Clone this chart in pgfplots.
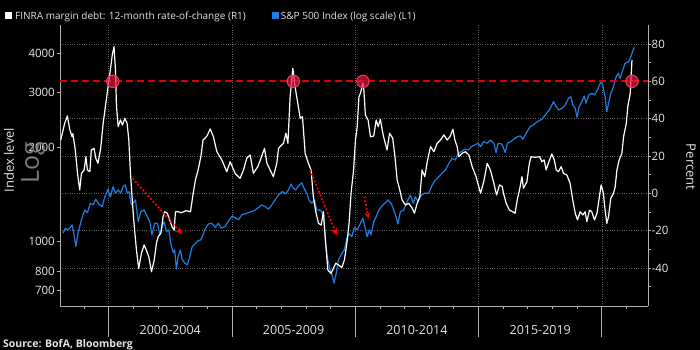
\documentclass[border=0pt]{standalone}
\usepackage{pgfplots}
\pgfplotsset{compat=1.18}
\usepackage{fontspec}
\setmainfont{Open Sans}
\usetikzlibrary{arrows.meta}
\definecolor{sbblue}{RGB}{30,125,225}
\definecolor{crim}{RGB}{225,25,60}
\definecolor{circb}{RGB}{240,60,95}
\definecolor{gridc}{RGB}{95,95,95}
\definecolor{axc}{RGB}{175,175,175}
\definecolor{txt}{RGB}{228,228,228}
\definecolor{loggray}{RGB}{125,125,125}

\pgfplotsset{
  base/.style={scale only axis, width=588pt, height=281pt,
    xmin=1998.03, xmax=2021.87, at={(0pt,0pt)}, anchor=south west,
    axis line style={axc, line width=0.8pt}, tick style={axc, line width=0.8pt},
    tick align=outside,
    /pgf/number format/assume math mode=true,
    ticklabel style={font=\fontsize{11.5}{13}\selectfont, text=txt}},
}

\begin{document}
\begin{tikzpicture}
\fill[black, use as bounding box] (-60pt,-44pt) rectangle (640pt,306pt);

% grid, dividers and minor year ticks
\begin{axis}[base, ymin=-60.4, ymax=90.2,
  axis x line*=bottom, axis y line*=left,
  ytick={-40,-20,0,20,40,80}, yticklabels={}, ytick style={draw=none},
  xtick={2000,2005,2010,2015,2020}, xticklabels={},
  major tick length=31pt,
  minor xtick={1999,2001,2002,2003,2004,2006,2007,2008,2009,2011,2012,2013,2014,2016,2017,2018,2019,2021},
  minor tick length=3pt,
  grid=major, major grid style={gridc, dotted, line width=0.7pt}]
\end{axis}

% right percent axis, period labels
\begin{axis}[base, ymin=-60.4, ymax=90.2,
  axis x line*=bottom, axis y line*=right,
  xtick={2002.5,2007.5,2012.5,2017.5},
  xticklabels={2000-2004,2005-2009,2010-2014,2015-2019},
  xtick style={draw=none},
  xticklabel style={font=\fontsize{12.5}{14}\selectfont, yshift=-13pt},
  ytick={-40,-20,0,20,40,60,80},
  yticklabels={-40,-20,0,20,40,60,80},
  minor ytick={-50,-30,-10,10,30,50,70},
  major tick length=3pt, minor tick length=3pt,
  yticklabel style={inner sep=0.5pt}]
\end{axis}

% left log axis with S&P 500
\begin{axis}[base, ymode=log, ymin=622, ymax=4943,
  axis x line=none, axis y line*=left,
  ytick={700,800,1000,2000,3000,4000},
  yticklabels={700,800,1000,2000,3000,4000},
  yminorticks=false, major tick length=3pt,
  yticklabel style={inner sep=2pt}]
\addplot[sbblue, line width=1.2pt, line join=round] coordinates {
(1998.15,1064) (1998.25,1104) (1998.36,1090) (1998.52,1131) (1998.59,1064)
(1998.67,964) (1998.76,1064) (1998.90,1174) (1999.03,1263) (1999.14,1238)
(1999.26,1327) (1999.37,1311) (1999.48,1367) (1999.60,1320) (1999.74,1294)
(1999.85,1393) (1999.98,1471) (2000.07,1387) (2000.18,1500) (2000.28,1429)
(2000.39,1464) (2000.49,1429) (2000.59,1500) (2000.68,1519) (2000.76,1429)
(2000.83,1446) (2000.92,1311) (2000.99,1327) (2001.09,1360) (2001.20,1159)
(2001.31,1248) (2001.44,1263) (2001.57,1202) (2001.67,1159) (2001.76,1051)
(2001.87,1145) (2001.98,1145) (2002.08,1051) (2002.17,1117) (2002.25,1159)
(2002.34,1077) (2002.44,1090) (2002.52,988) (2002.62,922) (2002.68,941)
(2002.75,816) (2002.82,895) (2002.91,941) (2002.98,878) (2003.09,853)
(2003.20,842) (2003.29,895) (2003.39,964) (2003.50,983) (2003.63,1007)
(2003.74,1013) (2003.83,1051) (2003.90,1090) (2004.01,1131) (2004.05,1139)
(2004.18,1145) (2004.32,1112) (2004.45,1145) (2004.56,1104) (2004.72,1117)
(2004.89,1174) (2005.02,1209) (2005.16,1188) (2005.26,1174) (2005.40,1218)
(2005.60,1233) (2005.81,1248) (2005.94,1263) (2006.10,1289) (2006.21,1311)
(2006.35,1294) (2006.48,1270) (2006.62,1311) (2006.75,1360) (2006.89,1411)
(2007.05,1446) (2007.19,1422) (2007.29,1464) (2007.40,1530) (2007.49,1483)
(2007.59,1464) (2007.70,1508) (2007.83,1545) (2007.94,1471) (2008.04,1429)
(2008.13,1353) (2008.24,1327) (2008.35,1360) (2008.44,1263) (2008.54,1263)
(2008.65,1248) (2008.74,1145) (2008.81,964) (2008.89,874) (2008.98,812)
(2009.08,773) (2009.14,736) (2009.23,792) (2009.32,874) (2009.46,918)
(2009.56,941) (2009.66,1025) (2009.75,1059) (2009.86,1037) (2009.97,1110)
(2010.08,1090) (2010.21,1145) (2010.31,1188) (2010.39,1117) (2010.48,1037)
(2010.57,1090) (2010.64,1051) (2010.75,1159) (2010.85,1202) (2010.96,1263)
(2011.06,1294) (2011.20,1327) (2011.33,1360) (2011.47,1320) (2011.61,1233)
(2011.73,1139) (2011.83,1248) (2011.97,1263) (2012.10,1343) (2012.24,1411)
(2012.35,1327) (2012.44,1393) (2012.55,1343) (2012.68,1411) (2012.82,1429)
(2012.98,1429) (2013.12,1519) (2013.25,1576) (2013.39,1615) (2013.52,1656)
(2013.66,1697) (2013.80,1783) (2013.93,1850) (2014.06,1826) (2014.17,1919)
(2014.31,1943) (2014.44,1977) (2014.58,1966) (2014.71,2015) (2014.85,2041)
(2014.98,2066) (2015.08,2015) (2015.21,2091) (2015.35,2066) (2015.48,2117)
(2015.62,2066) (2015.71,1928) (2015.79,2066) (2015.93,2056) (2015.99,2015)
(2016.08,1928) (2016.17,2066) (2016.31,2091) (2016.48,2144) (2016.58,2169)
(2016.69,2181) (2016.80,2128) (2016.93,2225) (2017.09,2336) (2017.22,2365)
(2017.39,2423) (2017.57,2466) (2017.70,2545) (2017.87,2641) (2018.04,2808)
(2018.15,2706) (2018.24,2641) (2018.38,2674) (2018.51,2740) (2018.65,2880)
(2018.74,2913) (2018.82,2740) (2018.92,2674) (2018.99,2503) (2019.08,2706)
(2019.19,2808) (2019.28,2928) (2019.36,2775) (2019.46,2950) (2019.59,2987)
(2019.70,2950) (2019.82,3061) (2019.93,3217) (2020.00,3232) (2020.06,3099)
(2020.13,2913) (2020.20,2608) (2020.27,2775) (2020.36,2987) (2020.47,3137)
(2020.58,3377) (2020.67,3463) (2020.74,3337) (2020.85,3547) (2020.94,3728)
(2021.08,3770) (2021.15,3866) (2021.22,4011) (2021.31,4195)
};
\end{axis}

% margin debt, threshold, circles, arrows
\begin{axis}[base, ymin=-60.4, ymax=90.2, hide axis]
\addplot[red!88!black, line width=1.8pt, dash pattern=on 7pt off 4pt] coordinates {(1998.03,60) (2021.87,60)};
\addplot[white, line width=1.2pt, line join=round] coordinates {
(1998.06,28.6) (1998.22,37.5) (1998.33,41.4) (1998.43,34) (1998.52,30.3)
(1998.55,32) (1998.65,23.2) (1998.74,10.7) (1998.83,1.8) (1998.90,10.7)
(1999.01,12.5) (1999.08,19.6) (1999.14,12.5) (1999.24,11.6) (1999.30,23.2)
(1999.41,24.1) (1999.48,18.8) (1999.57,16.1) (1999.68,24.1) (1999.78,37.5)
(1999.87,46.4) (1999.98,57.2) (2000.09,67.9) (2000.15,74.2) (2000.22,78.6)
(2000.28,66.1) (2000.32,46.4) (2000.39,35.7) (2000.48,39.3) (2000.56,36.6)
(2000.66,40.2) (2000.75,37.5) (2000.82,28.6) (2000.88,12.5) (2000.95,-1.8)
(2001.03,-16.1) (2001.13,-30.4) (2001.22,-40.2) (2001.33,-32.2) (2001.44,-27.7)
(2001.53,-30.4) (2001.63,-34) (2001.74,-42) (2001.85,-35.8) (2001.94,-26.8)
(2002.01,-23.3) (2002.12,-21.4) (2002.21,-12.5) (2002.28,-9.9) (2002.38,-10.7)
(2002.48,-14.3) (2002.57,-17.9) (2002.66,-19.7) (2002.71,-9.9) (2002.82,-9.9)
(2002.95,-10.4) (2003.15,-9.3) (2003.32,-9.9) (2003.43,0) (2003.52,7.1)
(2003.63,12.5) (2003.74,19.6) (2003.83,28.6) (2003.91,29.5) (2004.00,31)
(2004.12,34.5) (2004.25,30.3) (2004.39,22.3) (2004.59,17.9) (2004.79,11.6)
(2004.93,16.9) (2005.13,10.7) (2005.33,8.0) (2005.47,12.5) (2005.60,18.8)
(2005.74,20.5) (2005.87,10.7) (2006.05,14.3) (2006.18,18.8) (2006.32,24.1)
(2006.42,16.1) (2006.68,8.9) (2006.82,16.1) (2006.89,24.1) (2007.09,26.8)
(2007.19,32.2) (2007.27,26.8) (2007.36,51.8) (2007.47,67.0) (2007.56,57.2)
(2007.67,48.3) (2007.77,40.2) (2007.86,41.1) (2007.97,21.4) (2008.10,16.1)
(2008.21,12.5) (2008.30,-1.8) (2008.40,-9.9) (2008.51,-16.1) (2008.62,-17)
(2008.71,-9.9) (2008.78,-23.3) (2008.89,-41.1) (2009.02,-42.9) (2009.21,-37.5)
(2009.32,-38.4) (2009.46,-39.7) (2009.56,-35.8) (2009.66,-26.8) (2009.75,-16.1)
(2009.83,0) (2009.93,12) (2010.01,28.6) (2010.08,35.7) (2010.15,51.8)
(2010.21,53.6) (2010.31,59) (2010.35,55.4) (2010.41,42) (2010.52,39.3)
(2010.62,30.3) (2010.75,30.7) (2010.85,39.3) (2010.93,35.7) (2011.02,39.7)
(2011.13,31.3) (2011.29,23.2) (2011.39,32.2) (2011.52,29.5) (2011.61,19.6)
(2011.70,7.1) (2011.79,2.7) (2011.90,-3.6) (2012.04,-6.3) (2012.17,-5.4)
(2012.31,-8.0) (2012.40,-10.7) (2012.51,-5.4) (2012.62,-1.8) (2012.71,12.5)
(2012.82,8.9) (2012.92,16.9) (2013.05,25) (2013.19,22.3) (2013.32,26.8)
(2013.46,28.6) (2013.59,31.3) (2013.73,28.6) (2013.84,30.3) (2013.96,34.3)
(2014.04,28.6) (2014.13,25) (2014.20,19.6) (2014.33,21.4) (2014.47,22.3)
(2014.61,20.5) (2014.74,14.3) (2014.90,8.9) (2015.08,0) (2015.21,6.2)
(2015.35,16.1) (2015.48,12.5) (2015.62,5.4) (2015.73,-0.9) (2015.85,4.5)
(2015.96,3.6) (2016.01,0) (2016.12,-5.4) (2016.25,-9) (2016.39,-9.9)
(2016.48,-10.7) (2016.58,-2.7) (2016.66,1.8) (2016.76,8.9) (2016.82,2.7)
(2016.96,6.2) (2017.06,16.1) (2017.13,19.6) (2017.29,19.3) (2017.47,19.6)
(2017.57,16.9) (2017.66,17.9) (2017.74,12.5) (2017.83,16.1) (2017.97,21.1)
(2018.07,17.9) (2018.15,12.5) (2018.24,11.6) (2018.35,14.3) (2018.44,10.7)
(2018.58,9.8) (2018.71,5.4) (2018.82,-3.6) (2018.92,-10.7) (2019.01,-14.3)
(2019.12,-9.9) (2019.23,-11.6) (2019.32,-9.9) (2019.39,-15.2) (2019.50,-9)
(2019.59,-9.9) (2019.70,-14.3) (2019.80,-10.7) (2019.88,-3.6) (2019.97,4.5)
(2020.06,0) (2020.13,-9) (2020.20,-16.1) (2020.27,-12.5) (2020.36,-2.7)
(2020.47,0) (2020.54,3.6) (2020.61,12.5) (2020.70,17.9) (2020.81,21.4)
(2020.88,30.3) (2020.99,37.5) (2021.05,46.4) (2021.15,53.6) (2021.22,71.5)
};
\addplot[only marks, mark=*, mark size=6.2pt,
  mark options={fill=crim, fill opacity=0.7, draw=circb, line width=1pt}]
  coordinates {(2000.17,60) (2007.49,60) (2010.31,60) (2021.22,60)};
\draw[red, line width=1.8pt, dotted, -{Stealth[length=7pt,width=7pt]}] (axis cs:2000.98,8.0) -- (axis cs:2002.97,-21.8);
\draw[red, line width=1.8pt, dotted, -{Stealth[length=7pt,width=7pt]}] (axis cs:2008.17,12.5) -- (axis cs:2009.25,-22.4);
\draw[red, line width=1.8pt, dotted, -{Stealth[length=6pt,width=6pt]}] (axis cs:2010.37,-1.8) -- (axis cs:2010.53,-13.4);
\end{axis}

% titles, legend, source
\node[rotate=90, text=txt, font=\fontsize{13}{15}\selectfont] at (-51pt,146pt) {Index level};
\node[rotate=90, text=loggray, font=\fontsize{25}{27}\selectfont] at (-27pt,143pt) {Log};
\node[rotate=-90, text=txt, font=\fontsize{13}{15}\selectfont] at (631pt,139pt) {Percent};
\fill[white] (-55pt,286.7pt) rectangle (-47.5pt,294.3pt);
\node[anchor=base west, inner sep=0pt, text=txt, font=\fontsize{10}{12}\selectfont] at (-45pt,286.5pt) {FINRA margin debt: 12-month rate-of-change (R1)};
\fill[sbblue] (211.7pt,286.7pt) rectangle (218.7pt,294.3pt);
\node[anchor=base west, inner sep=0pt, text=txt, font=\fontsize{10}{12}\selectfont] at (220.7pt,286.5pt) {S\&P 500 Index (log scale) (L1)};
\node[anchor=base west, inner sep=0pt, text=txt, font=\bfseries\fontsize{10.5}{12}\selectfont] at (-57pt,-41pt) {Source: BofA, Bloomberg};
\end{tikzpicture}
\end{document}
